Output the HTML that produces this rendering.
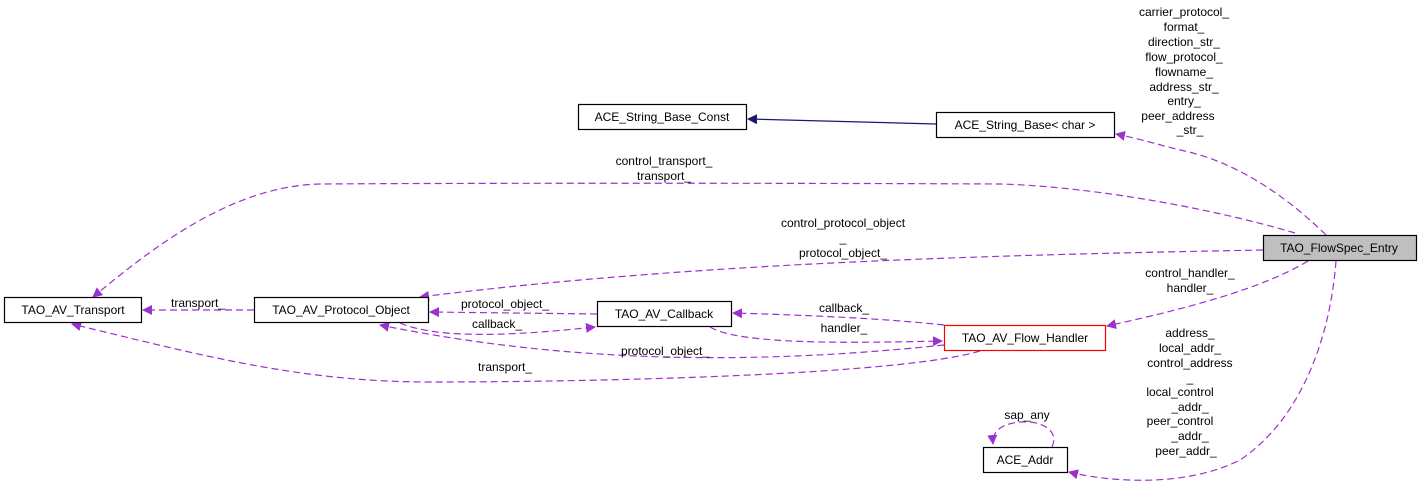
<!DOCTYPE html>
<html><head><meta charset="utf-8"><style>
html,body{margin:0;padding:0;background:#fff;width:1421px;height:487px;overflow:hidden}
svg text{font-family:"Liberation Sans",sans-serif;font-size:12px;fill:#000}
</style></head><body>
<svg width="1421" height="487" viewBox="0 0 1421 487" xmlns="http://www.w3.org/2000/svg">
<defs>
<marker id="ap" markerWidth="10" markerHeight="10" refX="9" refY="5" orient="auto" markerUnits="userSpaceOnUse"><path d="M0,0 L10,5 L0,10 z" fill="#9a32cd"/></marker>
<marker id="an" markerWidth="10" markerHeight="10" refX="9" refY="5" orient="auto" markerUnits="userSpaceOnUse"><path d="M0,0 L10,5 L0,10 z" fill="#191970"/></marker>
</defs>
<g fill="none" stroke="#9a32cd" stroke-dasharray="7,4" stroke-width="1.2">
<path d="M1326,235 C1280,190 1230,160 1180,150 C1160,145 1140,139 1116,134" marker-end="url(#ap)"/>
<path d="M1295,233 C1200,205 1080,186 1000,184 C800,183 450,183 320,184 C230,186 150,250 93,297" marker-end="url(#ap)"/>
<path d="M1263,250 C1000,255 700,262 420,297" marker-end="url(#ap)"/>
<path d="M1308,261 C1260,290 1180,310 1107,326" marker-end="url(#ap)"/>
<path d="M1336,261 C1330,340 1300,420 1240,460 C1180,490 1100,480 1069,472" marker-end="url(#ap)"/>
<path d="M254,310 L143,310" marker-end="url(#ap)"/>
<path d="M597,314 L430,312" marker-end="url(#ap)"/>
<path d="M400,323 C440,340 520,335 595,327" marker-end="url(#ap)"/>
<path d="M944,325 C880,318 800,315 733,313" marker-end="url(#ap)"/>
<path d="M710,327 C740,345 850,343 942,341" marker-end="url(#ap)"/>
<path d="M944,345 C800,360 600,370 380,325" marker-end="url(#ap)"/>
<path d="M980,351 C900,375 600,382 430,382 C300,382 200,355 72,324" marker-end="url(#ap)"/>
<path d="M1052,447 C1060,430 1040,420 1020,422 C1000,424 992,432 993,444" marker-end="url(#ap)"/>
</g>
<path d="M936,124 L748,119" stroke="#191970" stroke-width="1.2" fill="none" marker-end="url(#an)"/>
<g stroke="#000" stroke-width="1.2" fill="#fff">
<rect x="578.5" y="104.5" width="168" height="25"/>
<rect x="936.5" y="112.5" width="178" height="25"/>
<rect x="1263.5" y="235.5" width="153" height="25" fill="#bfbfbf"/>
<rect x="4.5" y="297.5" width="137" height="25"/>
<rect x="254.5" y="297.5" width="174" height="25"/>
<rect x="597.5" y="301.5" width="134" height="25"/>
<rect x="944.5" y="325.5" width="161" height="25" stroke="#ff0000"/>
<rect x="983.5" y="447.5" width="84" height="25"/>
</g>
<g text-anchor="middle">
<text x="662" y="121">ACE_String_Base_Const</text>
<text x="1025" y="129">ACE_String_Base&lt; char &gt;</text>
<text x="1339" y="252">TAO_FlowSpec_Entry</text>
<text x="73" y="314">TAO_AV_Transport</text>
<text x="341" y="314">TAO_AV_Protocol_Object</text>
<text x="664" y="318">TAO_AV_Callback</text>
<text x="1025" y="342">TAO_AV_Flow_Handler</text>
<text x="1025" y="464">ACE_Addr</text>
<text x="1184" y="16">carrier_protocol_</text>
<text x="1184" y="31">format_</text>
<text x="1184" y="46">direction_str_</text>
<text x="1184" y="61">flow_protocol_</text>
<text x="1184" y="76">flowname_</text>
<text x="1184" y="91">address_str_</text>
<text x="1184" y="105">entry_</text>
<text x="1178" y="120">peer_address</text>
<text x="1190" y="134">_str_</text>
<text x="664" y="165">control_transport_</text>
<text x="664" y="180">transport_</text>
<text x="843" y="227">control_protocol_object</text>
<text x="843" y="242">_</text>
<text x="843" y="257">protocol_object_</text>
<text x="1190" y="277">control_handler_</text>
<text x="1190" y="292">handler_</text>
<text x="1190" y="337">address_</text>
<text x="1190" y="352">local_addr_</text>
<text x="1190" y="367">control_address</text>
<text x="1190" y="382">_</text>
<text x="1180" y="396">local_control</text>
<text x="1190" y="411">_addr_</text>
<text x="1180" y="425">peer_control</text>
<text x="1190" y="440">_addr_</text>
<text x="1186" y="455">peer_addr_</text>
<text x="1027" y="419">sap_any</text>
<text x="198" y="307">transport_</text>
<text x="505" y="308">protocol_object_</text>
<text x="497" y="328">callback_</text>
<text x="844" y="312">callback_</text>
<text x="844" y="332">handler_</text>
<text x="665" y="355">protocol_object_</text>
<text x="505" y="371">transport_</text>
</g>
</svg>
</body></html>
